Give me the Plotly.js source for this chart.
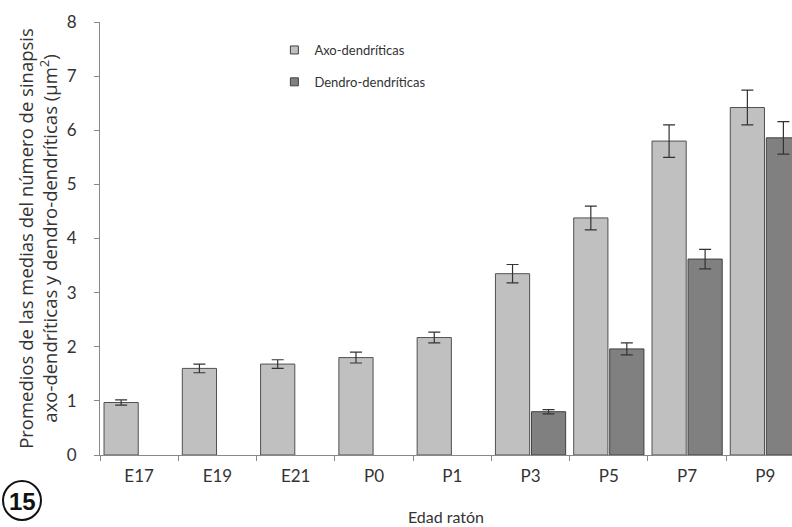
<!DOCTYPE html>
<html>
<head>
<meta charset="utf-8">
<script src="https://cdn.plot.ly/plotly-3.0.1.min.js"></script>
<style>html,body{margin:0;padding:0;background:#fff;}#chart{width:792px;height:527px;}</style>
</head>
<body>
<div id="chart"></div>
<script>
const categories = ["E17","E19","E21","P0","P1","P3","P5","P7","P9"];
const axoValues = [0.97, 1.60, 1.68, 1.80, 2.17, 3.35, 4.38, 5.80, 6.42];
const axoErrors = [0.05, 0.08, 0.08, 0.10, 0.10, 0.17, 0.22, 0.30, 0.32];
const dendroValues = [null, null, null, null, null, 0.80, 1.96, 3.62, 5.86];
const dendroErrors = [0, 0, 0, 0, 0, 0.04, 0.11, 0.18, 0.30];
const seriesNames = ["Axo-dendríticas", "Dendro-dendríticas"];
const seriesColors = ["#c0c0c0", "#808080"];

const font = "Lato, 'Open Sans', sans-serif";

const traces = [
  {
    type: "bar", name: seriesNames[0], x: categories, y: axoValues, showlegend: false,
    marker: {color: seriesColors[0], line: {color: "#505050", width: 1}},
    error_y: {type: "data", array: axoErrors, visible: true, color: "#333", thickness: 1.2, width: 6}
  },
  {
    type: "bar", name: seriesNames[1], x: categories, y: dendroValues, showlegend: false,
    marker: {color: seriesColors[1], line: {color: "#404040", width: 1}},
    error_y: {type: "data", array: dendroErrors, visible: true, color: "#333", thickness: 1.2, width: 6}
  },
  // legend entries (small square keys, as in the reference)
  {
    type: "scatter", mode: "markers", name: seriesNames[0], x: [null], y: [null], legendgroup: "a",
    marker: {symbol: "square", size: 8, color: seriesColors[0], line: {color: "#404040", width: 1}}
  },
  {
    type: "scatter", mode: "markers", name: seriesNames[1], x: [null], y: [null], legendgroup: "b",
    marker: {symbol: "square", size: 8, color: seriesColors[1], line: {color: "#404040", width: 1}}
  }
];

const layout = {
  width: 792, height: 527,
  margin: {l: 100, r: 0, t: 22, b: 72},
  paper_bgcolor: "#fff", plot_bgcolor: "#fff",
  barmode: "group", bargap: 0.08, bargroupgap: 0.05,
  font: {family: font, color: "#333", size: 14},
  showlegend: true,
  legend: {x: 0.252, y: 0.97, xanchor: "left", yanchor: "top", bgcolor: "rgba(0,0,0,0)",
           font: {size: 13, color: "#333"}, itemwidth: 30, tracegroupgap: 12},
  xaxis: {
    type: "category", range: [-0.5, 8.34],
    showline: true, linecolor: "#888", linewidth: 1,
    ticks: "outside", tickson: "boundaries", ticklen: 5, tickcolor: "#888",
    tickfont: {size: 17, color: "#333"}, ticklabelstandoff: 6,
    title: {text: "Edad ratón", font: {size: 16, color: "#333"}, standoff: 26},
    showgrid: false, zeroline: false
  },
  yaxis: {
    range: [0, 8], dtick: 1,
    showline: true, linecolor: "#888", linewidth: 1,
    ticks: "outside", ticklen: 5, tickcolor: "#888",
    tickfont: {size: 17, color: "#333"}, ticklabelstandoff: 14,
    title: {text: "Promedios de las medias del número de sinapsis<br>axo-dendríticas y dendro-dendríticas (µm<sup>2</sup>)",
            font: {size: 18.5, color: "#333", family: "'Open Sans', Lato, sans-serif"}, standoff: 4},
    showgrid: false, zeroline: false
  },
  shapes: [
    {type: "circle", xref: "paper", yref: "paper",
     x0: (3 - 100) / 692, x1: (41 - 100) / 692,
     y0: (455 - 520) / 433, y1: (455 - 481) / 433,
     line: {color: "#111", width: 2}}
  ],
  annotations: [
    {xref: "paper", yref: "paper", x: (22 - 100) / 692, y: (455 - 501) / 433,
     text: "<b>15</b>", showarrow: false, font: {size: 24, color: "#111", family: "'Liberation Sans', Arial, sans-serif"},
     xanchor: "center", yanchor: "middle"}
  ]
};

Plotly.newPlot("chart", traces, layout, {displayModeBar: false, staticPlot: true});
</script>
</body>
</html>
